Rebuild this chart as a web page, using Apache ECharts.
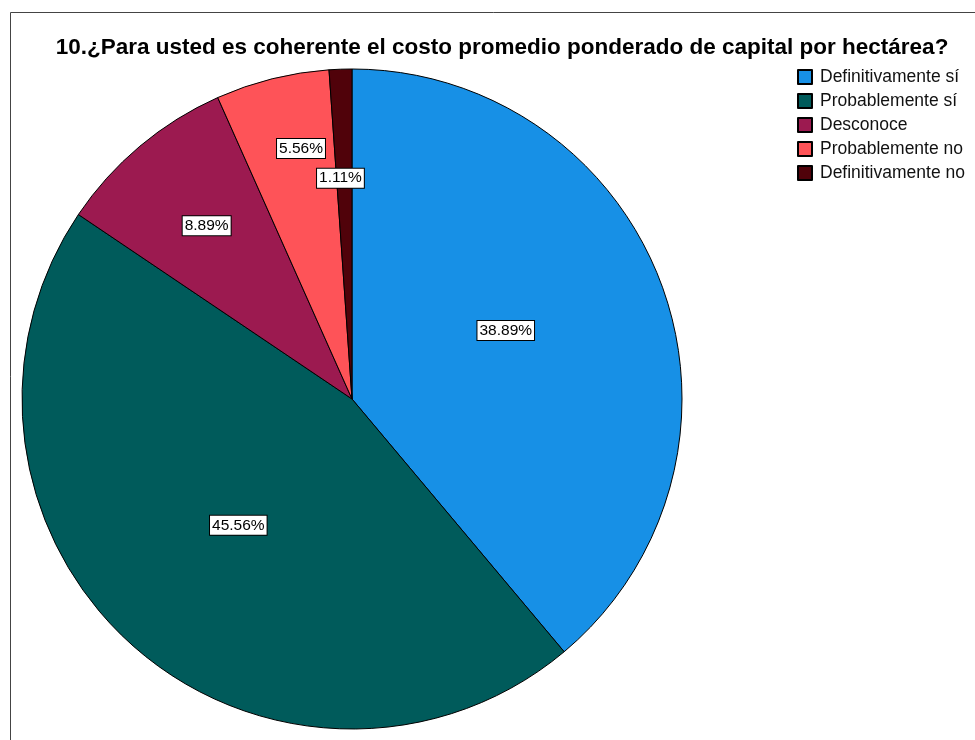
<!DOCTYPE html>
<html>
<head>
<meta charset="utf-8">
<script src="https://cdn.jsdelivr.net/npm/echarts@6/dist/echarts.min.js"></script>
<style>
html, body { margin: 0; padding: 0; background: #fff; }
#chart { width: 975px; height: 740px; }
</style>
</head>
<body>
<div id="chart"></div>
<script>
// respuestas de la pregunta 10
var categories = ['Definitivamente sí', 'Probablemente sí', 'Desconoce', 'Probablemente no', 'Definitivamente no'];
var percents = [38.89, 45.56, 8.89, 5.56, 1.11];
var colors = ['#1790e6', '#005b5b', '#9c1a50', '#fe5358', '#50020a'];
// where each label sits: share of radius and small angle nudge (deg)
var labelRadius = [0.51, 0.515, 0.685, 0.775, 0.67];
var labelShift = [-4, 0, 0, 2.5, -1];

var cx = 352, cy = 399, R = 330;

// mid angle of each slice, clockwise from 12 o'clock
var total = percents.reduce(function (a, b) { return a + b; }, 0);
var midAngles = [];
var acc = 0;
percents.forEach(function (v) {
    midAngles.push((acc + v / 2) / total * 360);
    acc += v;
});

var chartDom = document.getElementById('chart');
var myChart = echarts.init(chartDom);

var option = {
    animation: false,
    textStyle: { fontFamily: 'Liberation Sans' },
    title: {
        text: '10.¿Para usted es coherente el costo promedio ponderado de capital por hectárea?',
        left: 497,
        textAlign: 'center',
        top: 31,
        textStyle: { fontSize: 22.5, fontWeight: 'bold', color: '#000', fontFamily: 'Liberation Sans' }
    },
    legend: {
        orient: 'vertical',
        left: 792,
        top: 63,
        icon: 'rect',
        itemWidth: 14,
        itemHeight: 14,
        itemGap: 6,
        textStyle: { fontSize: 17.5, color: '#111', padding: [0, 0, 0, 3] },
        data: categories
    },
    graphic: [{
        type: 'rect',
        shape: { x: 10.5, y: 12.5, width: 1000, height: 800 },
        style: { fill: 'none', stroke: '#444', lineWidth: 1 },
        silent: true
    }],
    series: [{
        type: 'pie',
        center: [cx, cy],
        radius: R,
        startAngle: 90,
        clockwise: true,
        itemStyle: { borderColor: '#000', borderWidth: 1 },
        label: {
            position: 'inside',
            formatter: function (p) { return p.value.toFixed(2) + '%'; },
            color: '#000',
            fontSize: 15.5,
            backgroundColor: '#fff',
            borderColor: '#000',
            borderWidth: 1,
            padding: [2, 2, 1, 2]
        },
        labelLine: { show: false },
        labelLayout: function (params) {
            var i = params.dataIndex;
            var a = (midAngles[i] + labelShift[i]) * Math.PI / 180;
            var tx = cx + labelRadius[i] * R * Math.sin(a);
            var ty = cy - labelRadius[i] * R * Math.cos(a);
            var r = params.labelRect;
            return {
                dx: tx - (r.x + r.width / 2),
                dy: ty - (r.y + r.height / 2)
            };
        },
        emphasis: { disabled: true },
        data: categories.map(function (c, i) {
            return { name: c, value: percents[i], itemStyle: { color: colors[i] } };
        })
    }]
};

myChart.setOption(option);
</script>
</body>
</html>
